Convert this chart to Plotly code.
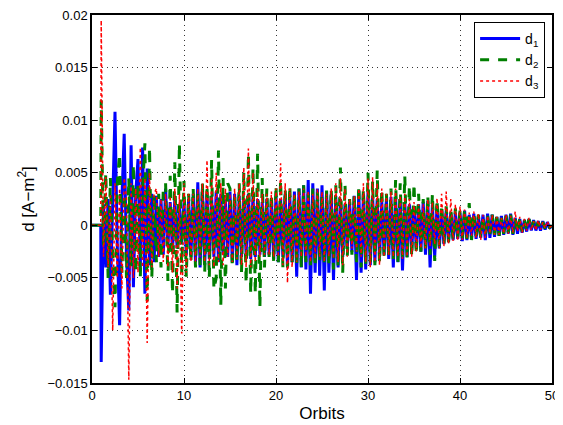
import numpy as np
import plotly.graph_objects as go

# Sample times (orbits): flat lead-in, then quarter-orbit samples of the oscillation extrema
lead_t = [0.0, 0.95]
lead_v = [0.0, 0.0]
osc_start = 1.0
osc_step = 0.25

# Values in units of 1e-4 A-m^2, 4 samples per orbit (orbits 1..49) then the value at orbit 50
d1_e4 = [
    -130, 20, -40, 25,   -66, 30, 108, -20,   -95, 25, 87, -30,   -81, 76, -59, 30,   63, -40, 74, -65,
    54, -38, 30, -35,    28, -30, 25, -28,    35, -20, 22, -25,   25, -22, 20, -18,   22, -28, 25, -30,
    30, -35, 41, -40,    35, -38, 30, -32,    28, -30, 32, -35,   30, -28, 25, -30,   32, -35, 30, -38,
    28, -30, 25, -28,    30, -32, 28, -30,    25, -28, 22, -30,   25, -28, 24, -32,   28, -35, 25, -30,
    30, -40, 28, -35,    32, -49, 35, -40,    38, -42, 43, -65,   40, -45, 35, -48,   38, -62, 32, -45,
    30, -52, 28, -40,    25, -30, 20, -22,    22, -25, 28, -52,   33, -45, 30, -42,   32, -38, 28, -35,
    25, -30, 22, -28,    25, -32, 27, -40,    27, -35, 25, -43,   22, -30, 20, -25,   18, -22, 20, -25,
    22, -28, 23, -40,    20, -30, 18, -22,    15, -18, 14, -16,   12, -14, 12, -13,   12, -15, 14, -14,
    10, -12, 11, -13,    9, -12, 10, -14,     11, -12, 10, -11,   8, -10, 9, -9,      10, -8, 11, -9,
    7, -8, 6, -7,        5, -6, 6, -5,        5, -5, 4, -5,       4, -4, 3, -3,
    0,
]
d2_e4 = [
    119, -20, 50, -50,   45, -30, -78, 40,    68, -45, 30, -50,   45, -40, 58, -45,   40, -50, 35, 78,
    -72, 74, -50, 30,    -35, 30, -40, 35,    40, -53, 47, -65,   60, -83, 78, -45,   42, -49, 30, -35,
    35, -40, 30, -38,    40, -45, 38, -50,    62, -61, -50, 71,   -76, 45, -60, 40,   35, -40, 30, -35,
    40, -45, 50, -55,    68, -65, 55, -65,    68, -78, 45, -40,   35, -30, 30, -35,   38, -35, 43, -40,
    35, -40, 38, -35,    30, -38, 35, -40,    38, -35, 30, -38,   35, -40, 32, -35,   30, -35, 33, -38,
    35, -42, 38, -40,    55, -45, 39, -30,    25, -28, 30, -35,   38, -40, 35, -38,   50, -35, 42, -38,
    52, -36, 35, -30,    30, -28, 35, -32,    43, -35, 40, -30,   47, -32, 38, -30,   40, -28, 30, -25,
    25, -22, 28, -28,    30, -34, 25, -20,    20, -18, 18, -16,   15, -14, 16, -12,   14, -12, 15, -13,
    21, -14, 12, -10,    10, -12, 9, -10,     9, -8, 10, -9,      8, -10, 7, -8,      9, -7, 10, -8,
    6, -7, 7, -6,        5, -5, 6, -4,        4, -4, 3, -4,       3, -3, 2, -2,
    0,
]
d3_e4 = [
    195, -30, 46, -40,   30, -100, 40, -50,   35, -60, 45, 25,    -147, 40, -50, 35,  -45, 74, -40, 45,
    -112, 50, -40, 30,   35, -30, 25, -35,    30, -40, 28, -45,   35, -60, 30, -103,  40, -45, 30, -35,
    30, -35, 35, -30,    40, -35, 62, -38,    45, -40, 50, -35,   40, -38, 35, -30,   30, -35, 35, -32,
    40, -38, 55, -40,    73, -40, 50, -35,    35, -30, 30, -28,   30, -28, 32, -30,   35, -30, 59, -38,
    40, -55, 35, -40,    30, -35, 32, -30,    35, -30, 33, -35,   30, -32, 35, -30,   32, -35, 30, -30,
    35, -32, 40, -35,    45, -38, 35, -30,    25, -22, 28, -25,   35, -30, 40, -35,   45, -40, 46, -35,
    40, -38, 35, -30,    30, -28, 32, -30,    35, -30, 28, -32,   30, -30, 25, -30,   22, -25, 20, -22,
    20, -22, 25, -20,    22, -18, 26, -22,    30, -20, 32, -18,   25, -15, 20, -15,   18, -14, 15, -12,
    12, -10, 13, -12,    11, -14, 10, -12,    9, -8, 10, -9,      8, -9, 7, -8,       10, -8, 9, -7,
    13, -6, 8, -7,       6, -5, 7, -5,        4, -5, 5, -4,       3, -3, 4, -2,
    0,
]
unit = 1e-4

x_ticks = [0, 10, 20, 30, 40, 50]
y_ticks = [-0.015, -0.01, -0.005, 0, 0.005, 0.01, 0.015, 0.02]
y_ticktext = ["\u22120.015", "\u22120.01", "\u22120.005", "0", "0.005", "0.01", "0.015", "0.02"]

def series(vals):
    t = lead_t + list(osc_start + osc_step * np.arange(len(vals)))
    v = lead_v + [val * unit for val in vals]
    return t, v

fig = go.Figure()
specs = [
    (d1_e4, "d<sub>1</sub>", "#0000ff", "solid", 3),
    (d2_e4, "d<sub>2</sub>", "#007f00", "dash", 3),
    (d3_e4, "d<sub>3</sub>", "#ff0000", "dot", 1.5),
]
for i, (vals, name, color, dash, w) in enumerate(specs):
    t, v = series(vals)
    fig.add_trace(go.Scatter(x=t, y=v, mode="lines", name=name, legendgroup=str(i),
                             line=dict(color=color, dash=dash, width=w)))

FONT = "Liberation Sans, Arial"
axis_common = dict(
    showline=True, linecolor="black", linewidth=1.5, mirror="ticks",
    ticks="inside", ticklen=5, tickcolor="black",
    showgrid=True, gridcolor="#333", griddash="1px,4px", gridwidth=1,
    zeroline=False, automargin=False, ticklabeloverflow="allow",
    tickfont=dict(family=FONT, size=13, color="black"),
)
fig.update_xaxes(range=[0, 50], tickvals=x_ticks,
                 title=dict(text="Orbits", font=dict(family=FONT, size=17, color="black"), standoff=5),
                 **axis_common)
fig.update_yaxes(range=[-0.015, 0.02], tickvals=y_ticks, ticktext=y_ticktext,
                 title=dict(text="d [A\u2212m<sup>2</sup>]", font=dict(family=FONT, size=17, color="black"), standoff=9),
                 **axis_common)
# page body has an 8px margin, so the figure is drawn 8px smaller with shifted margins
fig.update_layout(
    width=555, height=417,
    margin=dict(l=84, r=11, t=7, b=42),
    paper_bgcolor="white", plot_bgcolor="white",
    showlegend=True,
    legend=dict(x=0.985, y=0.981, xanchor="right", yanchor="top",
                bgcolor="white", bordercolor="black", borderwidth=1,
                font=dict(family=FONT, size=14, color="black"),
                tracegroupgap=0, itemwidth=40),
)
fig.write_html("out.html")
